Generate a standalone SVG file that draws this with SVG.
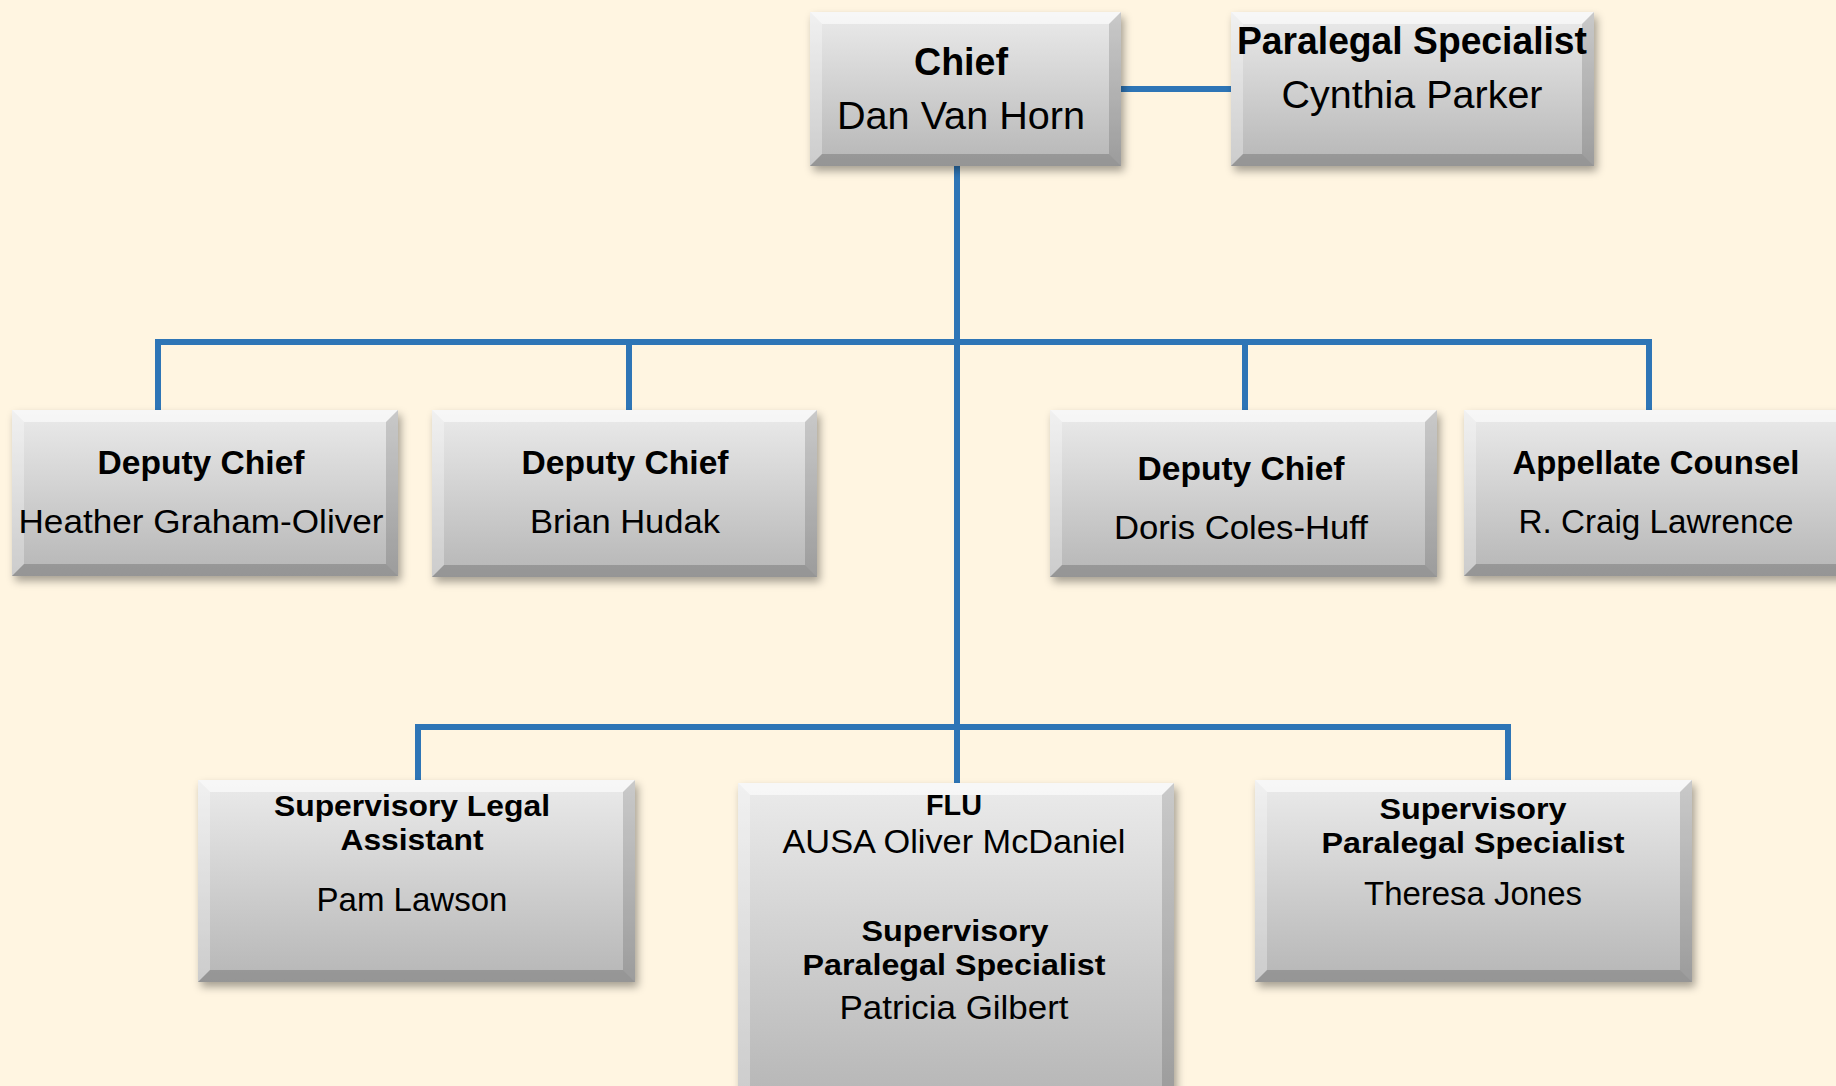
<svg xmlns="http://www.w3.org/2000/svg" width="1836" height="1086" viewBox="0 0 1836 1086">
<defs>
<linearGradient id="g" x1="0" y1="0" x2="0" y2="1">
<stop offset="0" stop-color="#ebebeb"/>
<stop offset="1" stop-color="#b6b6b6"/>
</linearGradient>
<filter id="sh" x="-10%" y="-10%" width="125%" height="130%">
<feDropShadow dx="3" dy="5" stdDeviation="4" flood-color="#000" flood-opacity="0.35"/>
</filter>
<style>
.box{fill:url(#g);filter:url(#sh)}
.bt{fill:#fff;opacity:.6}
.bl{fill:#fff;opacity:.3}
.br{fill:#000;opacity:.14}
.bb{fill:#000;opacity:.18}
.con{stroke:#2e75b6;stroke-width:6;fill:none}
text{font-family:"Liberation Sans",Arial,sans-serif;fill:#000;text-anchor:middle}
.b{font-weight:bold}
.t1{font-size:38px}
.t2{font-size:34px}
.t3{font-size:30px}
</style>
</defs>
<rect width="1836" height="1086" fill="#fff5e1"/>
<g id="connectors">
<line class="con" x1="1121" y1="89" x2="1231" y2="89"/>
<line class="con" x1="957" y1="166" x2="957" y2="783"/>
<polyline class="con" points="158,410 158,342 1649,342 1649,410"/>
<line class="con" x1="629" y1="342" x2="629" y2="410"/>
<line class="con" x1="1245" y1="342" x2="1245" y2="410"/>
<polyline class="con" points="418,780 418,727 1508,727 1508,780"/>
</g>
<g id="chief">
<rect class="box" x="810" y="12" width="311" height="154"/>
<polygon class="bt" points="810,12 1121,12 1109,24 822,24"/>
<polygon class="bl" points="810,12 822,24 822,154 810,166"/>
<polygon class="br" points="1121,12 1121,166 1109,154 1109,24"/>
<polygon class="bb" points="810,166 822,154 1109,154 1121,166"/>
<text class="b t1" x="961" y="75" textLength="94" lengthAdjust="spacingAndGlyphs">Chief</text>
<text class="t1" x="961" y="129" textLength="248" lengthAdjust="spacingAndGlyphs">Dan Van Horn</text>
</g>
<g id="paralegal">
<rect class="box" x="1231" y="12" width="363" height="154"/>
<polygon class="bt" points="1231,12 1594,12 1582,24 1243,24"/>
<polygon class="bl" points="1231,12 1243,24 1243,154 1231,166"/>
<polygon class="br" points="1594,12 1594,166 1582,154 1582,24"/>
<polygon class="bb" points="1231,166 1243,154 1582,154 1594,166"/>
<text class="b t1" x="1412" y="54" textLength="350" lengthAdjust="spacingAndGlyphs">Paralegal Specialist</text>
<text class="t1" x="1412" y="108" textLength="261" lengthAdjust="spacingAndGlyphs">Cynthia Parker</text>
</g>
<g id="deputy1">
<rect class="box" x="12" y="410" width="386" height="166"/>
<polygon class="bt" points="12,410 398,410 386,422 24,422"/>
<polygon class="bl" points="12,410 24,422 24,564 12,576"/>
<polygon class="br" points="398,410 398,576 386,564 386,422"/>
<polygon class="bb" points="12,576 24,564 386,564 398,576"/>
<text class="b t2" x="201" y="474" textLength="207" lengthAdjust="spacingAndGlyphs">Deputy Chief</text>
<text class="t2" x="201" y="533" textLength="365" lengthAdjust="spacingAndGlyphs">Heather Graham-Oliver</text>
</g>
<g id="deputy2">
<rect class="box" x="432" y="410" width="385" height="167"/>
<polygon class="bt" points="432,410 817,410 805,422 444,422"/>
<polygon class="bl" points="432,410 444,422 444,565 432,577"/>
<polygon class="br" points="817,410 817,577 805,565 805,422"/>
<polygon class="bb" points="432,577 444,565 805,565 817,577"/>
<text class="b t2" x="625" y="474" textLength="207" lengthAdjust="spacingAndGlyphs">Deputy Chief</text>
<text class="t2" x="625" y="533" textLength="190" lengthAdjust="spacingAndGlyphs">Brian Hudak</text>
</g>
<g id="deputy3">
<rect class="box" x="1050" y="410" width="387" height="167"/>
<polygon class="bt" points="1050,410 1437,410 1425,422 1062,422"/>
<polygon class="bl" points="1050,410 1062,422 1062,565 1050,577"/>
<polygon class="br" points="1437,410 1437,577 1425,565 1425,422"/>
<polygon class="bb" points="1050,577 1062,565 1425,565 1437,577"/>
<text class="b t2" x="1241" y="480" textLength="207" lengthAdjust="spacingAndGlyphs">Deputy Chief</text>
<text class="t2" x="1241" y="539" textLength="254" lengthAdjust="spacingAndGlyphs">Doris Coles-Huff</text>
</g>
<g id="appellate">
<rect class="box" x="1464" y="410" width="386" height="166"/>
<polygon class="bt" points="1464,410 1850,410 1838,422 1476,422"/>
<polygon class="bl" points="1464,410 1476,422 1476,564 1464,576"/>
<polygon class="bb" points="1464,576 1476,564 1838,564 1850,576"/>
<text class="b t2" x="1656" y="474" textLength="287" lengthAdjust="spacingAndGlyphs">Appellate Counsel</text>
<text class="t2" x="1656" y="533" textLength="275" lengthAdjust="spacingAndGlyphs">R. Craig Lawrence</text>
</g>
<g id="legal-assistant">
<rect class="box" x="198" y="780" width="437" height="202"/>
<polygon class="bt" points="198,780 635,780 623,792 210,792"/>
<polygon class="bl" points="198,780 210,792 210,970 198,982"/>
<polygon class="br" points="635,780 635,982 623,970 623,792"/>
<polygon class="bb" points="198,982 210,970 623,970 635,982"/>
<text class="b t3" x="412" y="816" textLength="276" lengthAdjust="spacingAndGlyphs">Supervisory Legal</text>
<text class="b t3" x="412" y="850" textLength="143" lengthAdjust="spacingAndGlyphs">Assistant</text>
<text class="t2" x="412" y="911" textLength="191" lengthAdjust="spacingAndGlyphs">Pam Lawson</text>
</g>
<g id="flu">
<rect class="box" x="738" y="783" width="436" height="317"/>
<polygon class="bt" points="738,783 1174,783 1162,795 750,795"/>
<polygon class="bl" points="738,783 750,795 750,1088 738,1100"/>
<polygon class="br" points="1174,783 1174,1100 1162,1088 1162,795"/>
<text class="b t3" x="954" y="815" textLength="56" lengthAdjust="spacingAndGlyphs">FLU</text>
<text class="t2" x="954" y="853" textLength="343" lengthAdjust="spacingAndGlyphs">AUSA Oliver McDaniel</text>
<text class="b t3" x="955" y="941" textLength="187" lengthAdjust="spacingAndGlyphs">Supervisory</text>
<text class="b t3" x="954" y="975" textLength="303" lengthAdjust="spacingAndGlyphs">Paralegal Specialist</text>
<text class="t2" x="954" y="1019" textLength="229" lengthAdjust="spacingAndGlyphs">Patricia Gilbert</text>
</g>
<g id="paralegal-supervisor">
<rect class="box" x="1255" y="780" width="437" height="202"/>
<polygon class="bt" points="1255,780 1692,780 1680,792 1267,792"/>
<polygon class="bl" points="1255,780 1267,792 1267,970 1255,982"/>
<polygon class="br" points="1692,780 1692,982 1680,970 1680,792"/>
<polygon class="bb" points="1255,982 1267,970 1680,970 1692,982"/>
<text class="b t3" x="1473" y="819" textLength="187" lengthAdjust="spacingAndGlyphs">Supervisory</text>
<text class="b t3" x="1473" y="853" textLength="303" lengthAdjust="spacingAndGlyphs">Paralegal Specialist</text>
<text class="t2" x="1473" y="905" textLength="218" lengthAdjust="spacingAndGlyphs">Theresa Jones</text>
</g>
</svg>
